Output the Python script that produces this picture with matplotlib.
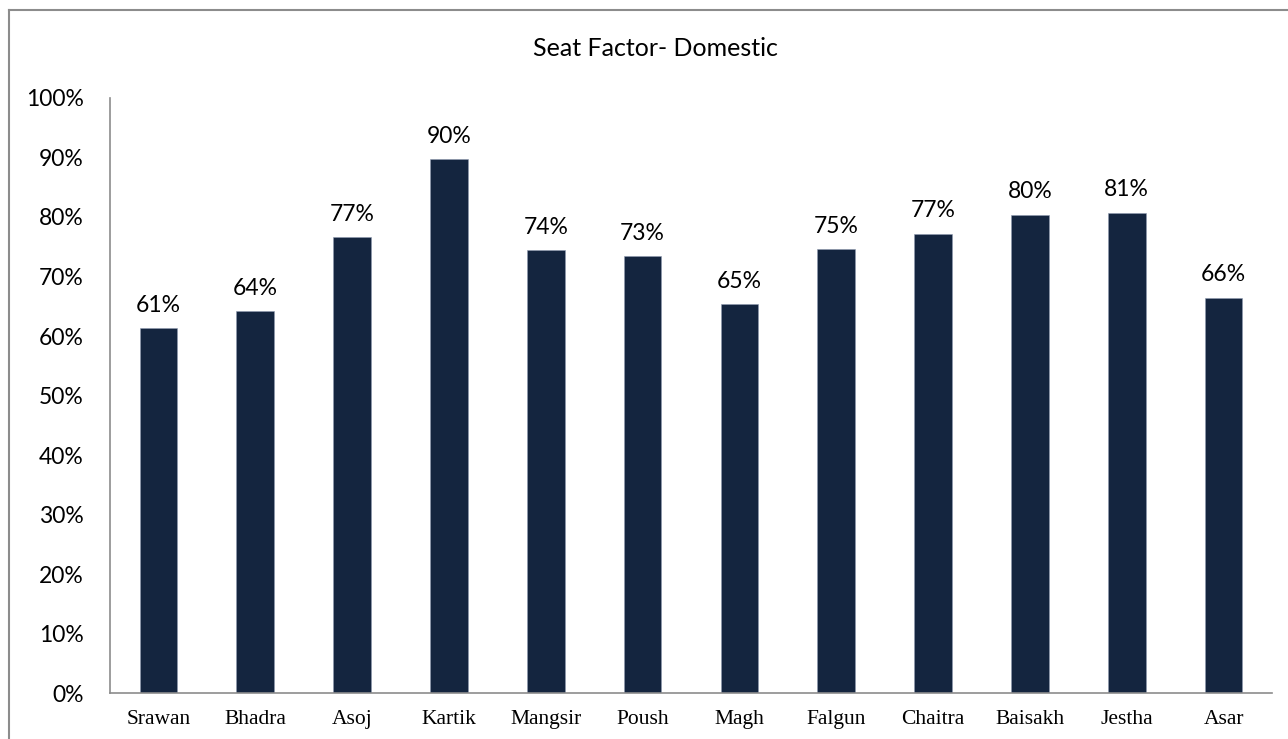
import matplotlib.pyplot as plt
from matplotlib.lines import Line2D
from matplotlib.ticker import MultipleLocator, PercentFormatter

months = ['Srawan', 'Bhadra', 'Asoj', 'Kartik', 'Mangsir', 'Poush',
          'Magh', 'Falgun', 'Chaitra', 'Baisakh', 'Jestha', 'Asar']
seat_factor = [61.3, 64.2, 76.6, 89.7, 74.4, 73.4, 65.3, 74.6, 77.2, 80.4, 80.7, 66.4]
labels = ['61%', '64%', '77%', '90%', '74%', '73%', '65%', '75%', '77%', '80%', '81%', '66%']

fig = plt.figure(figsize=(12.88, 7.39), dpi=100)
ax = fig.add_axes([0.0854, 0.0622, 0.9022, 0.8052])

x = range(len(months))
bars = ax.bar(x, seat_factor, width=0.39, color='#14253f',
              edgecolor='#8f9bb0', linewidth=0.4)

for b, lab in zip(bars, labels):
    ax.annotate(lab, (b.get_x() + b.get_width() / 2, b.get_height()),
                xytext=(0, 9), textcoords='offset points',
                ha='center', va='bottom', fontsize=16.5, family='Lato')

ax.set_xlim(-0.5, len(months) - 0.5)
ax.set_ylim(0, 100)
ax.yaxis.set_major_locator(MultipleLocator(10))
ax.yaxis.set_major_formatter(PercentFormatter(decimals=0))
ax.set_xticks(list(x))
ax.set_xticklabels(months, family='Liberation Serif', fontsize=15.5)
for t in ax.get_yticklabels():
    t.set_family('Lato')
    t.set_fontsize(16.5)
ax.tick_params(axis='x', length=0, pad=12)
ax.tick_params(axis='y', length=0, pad=19)

for s in ['top', 'right']:
    ax.spines[s].set_visible(False)
ax.spines['left'].set_color('#8c8c8c')
ax.spines['bottom'].set_color('#8c8c8c')
ax.spines['left'].set_linewidth(1.2)
ax.spines['bottom'].set_linewidth(1.2)

fig.text(0.509, 0.935, 'Seat Factor- Domestic', ha='center', va='center',
         fontsize=18, family='Lato')

# outer chart frame: only top and left edges visible
fig.lines.append(Line2D([0.007, 1.0], [0.986, 0.986], transform=fig.transFigure,
                        color='#8c8c8c', linewidth=1.5))
fig.lines.append(Line2D([0.007, 0.007], [0.0, 0.986], transform=fig.transFigure,
                        color='#8c8c8c', linewidth=1.5))

fig.savefig('out.png', dpi=100)
